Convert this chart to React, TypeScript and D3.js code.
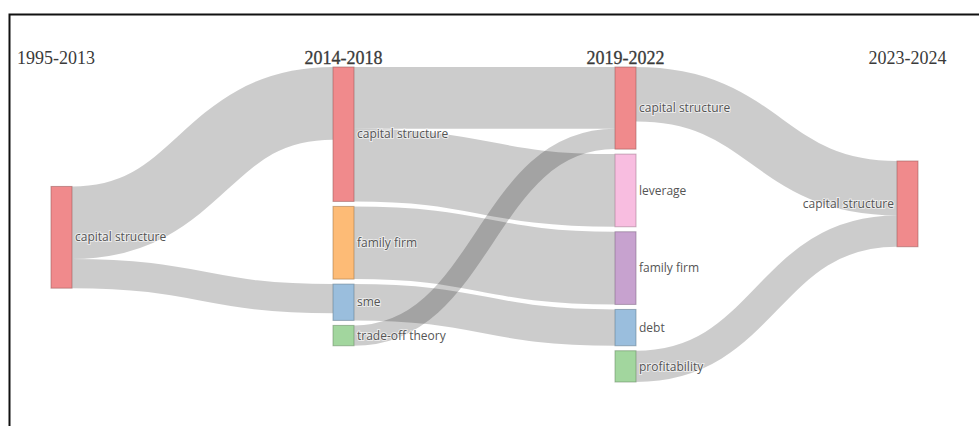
import React from 'react';
import * as d3 from 'd3';

// thematic evolution: periods, topic nodes and flows between them
const periods = ['1995-2013', '2014-2018', '2019-2022', '2023-2024'];

const nodeNames = [
  'capital structure',
  'capital structure', 'family firm', 'sme', 'trade-off theory',
  'capital structure', 'leverage', 'family firm', 'debt', 'profitability',
  'capital structure',
];
const nodePeriod = [0, 1, 1, 1, 1, 2, 2, 2, 2, 2, 3];

const linkSource = [0, 0, 1, 1, 2, 3, 4, 5, 9];
const linkTarget = [1, 3, 5, 6, 7, 8, 5, 10, 10];
const linkValue = [20, 8, 17, 20, 20, 10, 5.6, 15, 8.6];

// styling
const nodeColors = [
  '#f08a8c',
  '#f08a8c', '#fdbb76', '#9abedd', '#a2d69e',
  '#f08a8c', '#f8bde0', '#c7a2cf', '#9abedd', '#a2d69e',
  '#f08a8c',
];
const boldPeriods = [false, true, true, false];
// where single-node columns sit inside the free vertical space (0 = top, 1 = bottom)
const columnAlign = [0.56, 0, 0, 0.41];

const W = 979;
const H = 426;
const nodeWidth = 21;
const nodePadding = 5;
const y0 = 67;
const y1 = 382;

function layout() {
  const nodes = nodeNames.map((name, i) => ({
    i, name, col: nodePeriod[i], color: nodeColors[i],
    inLinks: [] as any[], outLinks: [] as any[],
    value: 0, x0: 0, x1: 0, y0: 0, y1: 0,
  }));
  const links = linkValue.map((v, i) => ({
    value: v, source: nodes[linkSource[i]], target: nodes[linkTarget[i]],
    width: 0, sy: 0, ty: 0,
  }));
  links.forEach((l) => { l.source.outLinks.push(l); l.target.inLinks.push(l); });
  nodes.forEach((n) => {
    n.value = Math.max(d3.sum(n.inLinks, (l) => l.value), d3.sum(n.outLinks, (l) => l.value));
  });

  const cols = d3.groups(nodes, (n) => n.col).sort((a, b) => a[0] - b[0]).map((g) => g[1]);

  // value -> pixel scale fitted to the fullest column
  const ky = d3.min(cols, (c) => (y1 - y0 - (c.length - 1) * nodePadding) / d3.sum(c, (n) => n.value))!;
  const h = d3.scaleLinear().domain([0, 1]).range([0, ky]);
  const x = d3.scaleLinear().domain([0, periods.length - 1]).range([51, 897]);

  cols.forEach((c, ci) => {
    const total = d3.sum(c, (n) => h(n.value)) + (c.length - 1) * nodePadding;
    let y = y0 + (y1 - y0 - total) * columnAlign[ci];
    c.forEach((n) => {
      n.x0 = x(n.col);
      n.x1 = n.x0 + nodeWidth;
      n.y0 = y;
      n.y1 = y + h(n.value);
      y = n.y1 + nodePadding;
    });
  });

  links.forEach((l) => { l.width = h(l.value); });
  nodes.forEach((n) => {
    let sy = n.y0;
    n.outLinks.sort((a, b) => a.target.y0 - b.target.y0).forEach((l) => { l.sy = sy + l.width / 2; sy += l.width; });
    let ty = n.y0;
    n.inLinks.sort((a, b) => a.source.y0 - b.source.y0).forEach((l) => { l.ty = ty + l.width / 2; ty += l.width; });
  });

  return { nodes, links, x };
}

export default function App() {
  const { nodes, links, x } = React.useMemo(layout, []);
  const linkPath = d3.linkHorizontal();
  const lastCol = periods.length - 1;

  return (
    <svg width={W} height={H} style={{ position: 'absolute', left: 0, top: 0, background: '#fff' }}>
      <g fill="none">
        {links.map((l, i) => (
          <path
            key={i}
            d={linkPath({ source: [l.source.x1, l.sy], target: [l.target.x0, l.ty] } as any) || ''}
            stroke="#000"
            strokeOpacity={0.2}
            strokeWidth={Math.max(1, l.width)}
          />
        ))}
      </g>
      <g>
        {nodes.map((n) => (
          <rect
            key={n.i}
            x={n.x0}
            y={n.y0}
            width={n.x1 - n.x0}
            height={n.y1 - n.y0}
            fill={n.color}
            stroke={d3.color(n.color)!.darker(1.3).formatHex()}
            strokeOpacity={0.55}
            strokeWidth={1}
          />
        ))}
      </g>
      <g fontFamily="'Open Sans', sans-serif" fontSize={12} fill="#555">
        {nodes.map((n) => {
          const right = n.col !== lastCol;
          return (
            <text
              key={n.i}
              x={right ? n.x1 + 3 : n.x0 - 3}
              y={(n.y0 + n.y1) / 2}
              dy="0.35em"
              textAnchor={right ? 'start' : 'end'}
              stroke="#fff"
              strokeWidth={2}
              strokeOpacity={0.6}
              style={{ paintOrder: 'stroke' }}
            >
              {n.name}
            </text>
          );
        })}
      </g>
      <g fontFamily="'Liberation Serif', 'Times New Roman', serif" fontSize={18} fill="#3a3a3a">
        {periods.map((p, i) => {
          const cx = x(i) + nodeWidth / 2;
          const first = i === 0;
          return (
            <text
              key={p}
              x={first ? 17 : cx}
              y={64}
              textAnchor={first ? 'start' : 'middle'}
              stroke={boldPeriods[i] ? '#3a3a3a' : 'none'}
              strokeWidth={boldPeriods[i] ? 0.3 : 0}
            >
              {p}
            </text>
          );
        })}
      </g>
      <path d={`M9.5,${H} V14.5 H${W}`} fill="none" stroke="#111" strokeWidth={2} />
    </svg>
  );
}
